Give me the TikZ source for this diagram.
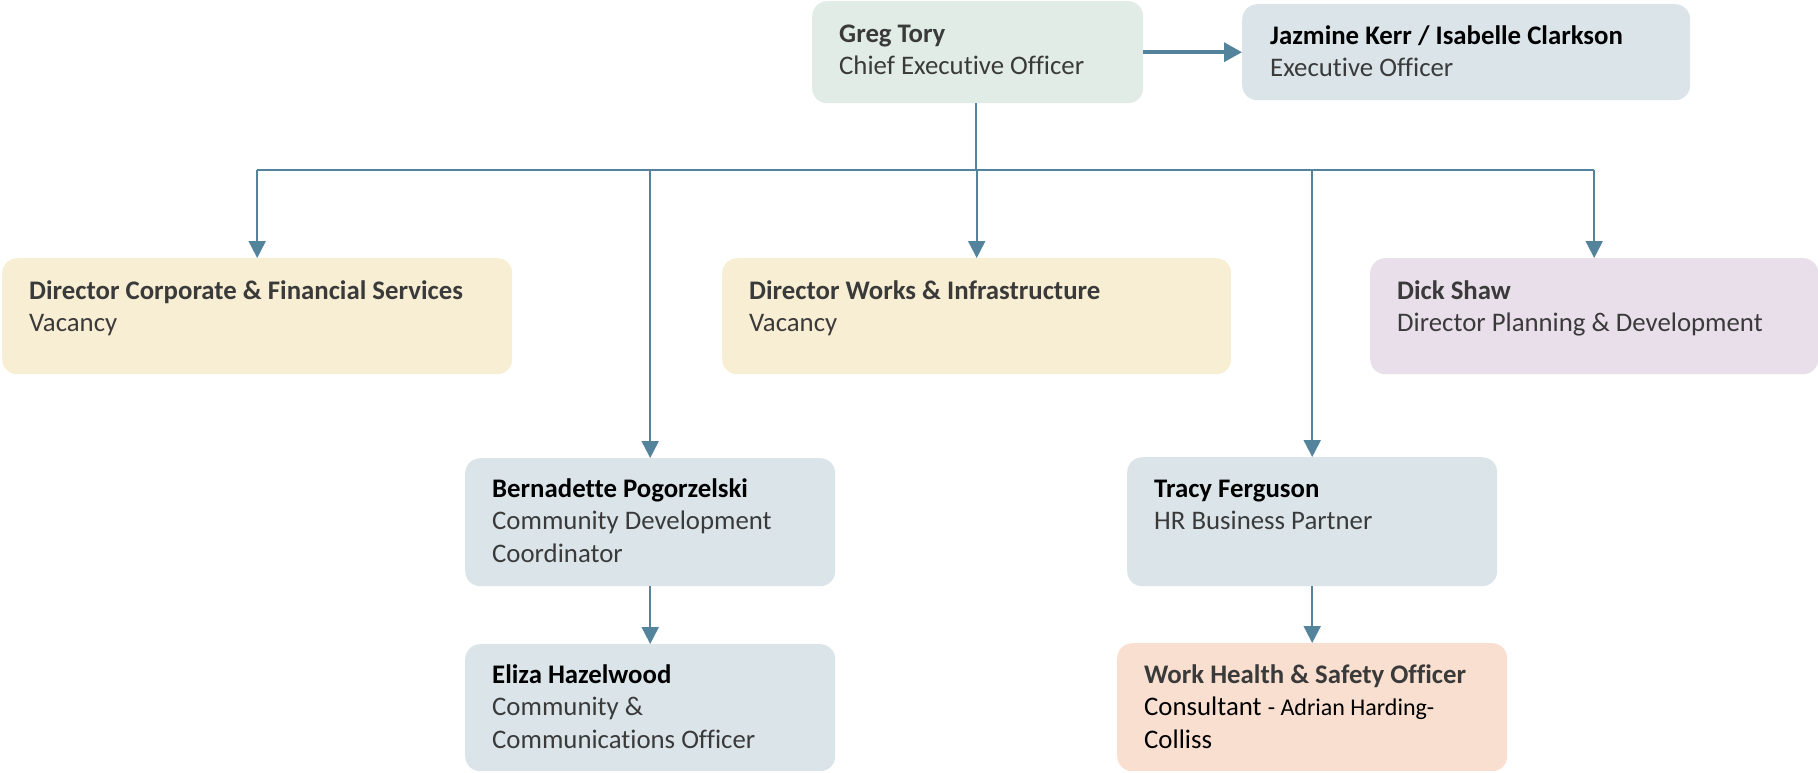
\documentclass[tikz,border=0pt]{standalone}
\usepackage{fontspec}
\setmainfont{Carlito}[Ligatures={NoCommon}]
\usetikzlibrary{arrows.meta,calc}
\definecolor{linec}{HTML}{54839C}
\definecolor{txtc}{HTML}{3A3A3A}
\definecolor{greenbox}{HTML}{E1ECE7}
\definecolor{bluebox}{HTML}{DBE5E9}
\definecolor{yellowbox}{HTML}{F8EED3}
\definecolor{purplebox}{HTML}{E9DFEB}
\definecolor{peachbox}{HTML}{F9DFCF}
\newcommand{\twolines}[3]{\vtop{\baselineskip=32.5pt\hbox{\textbf{\color{#1}#2}}#3}}
\newcommand{\tline}[1]{\hbox{#1}}
\begin{document}
\begin{tikzpicture}[x=1pt,y=-1pt,
  orgbox/.style={draw=none,rounded corners=15pt,anchor=north west,inner sep=0pt},
  orgtxt/.style={anchor=base west,inner sep=0pt,text=txtc,font=\fontsize{26.8}{32.5}\selectfont},
  conn/.style={draw=linec,line width=2pt},
  connarrow/.style={conn,-{Triangle[width=17pt,length=17pt]}},
  bar/.style={draw=linec,line width=2.8pt}]
\useasboundingbox (0,0) rectangle (1818,772);
% boxes
\node[orgbox,fill=greenbox,minimum width=331pt,minimum height=102pt] (greg) at (812,1) {};
\node[orgbox,fill=bluebox,minimum width=448pt,minimum height=96pt] (jaz) at (1242,4) {};
\node[orgbox,fill=yellowbox,minimum width=510pt,minimum height=116pt] (corp) at (2,258) {};
\node[orgbox,fill=yellowbox,minimum width=509pt,minimum height=116pt] (works) at (722,258) {};
\node[orgbox,fill=purplebox,minimum width=448pt,minimum height=116pt] (dick) at (1370,258) {};
\node[orgbox,fill=bluebox,minimum width=370pt,minimum height=128pt] (bern) at (465,458) {};
\node[orgbox,fill=bluebox,minimum width=370pt,minimum height=127pt] (eliza) at (465,644) {};
\node[orgbox,fill=bluebox,minimum width=370pt,minimum height=129pt] (tracy) at (1127,457) {};
\node[orgbox,fill=peachbox,minimum width=390pt,minimum height=128pt] (whs) at (1117,643) {};
% texts
\node[orgtxt] (greg-t) at (839,42) {\twolines{txtc}{Greg Tory}{\tline{Chief Executive Officer}}};
\node[orgtxt] (jaz-t) at (1270,44) {\twolines{black}{Jazmine Kerr / Isabelle Clarkson}{\tline{Executive Officer}}};
\node[orgtxt] (corp-t) at (29,299) {\twolines{txtc}{Director Corporate \& Financial Services}{\tline{Vacancy}}};
\node[orgtxt] (works-t) at (749,299) {\twolines{txtc}{Director Works \& Infrastructure}{\tline{Vacancy}}};
\node[orgtxt] (dick-t) at (1397,299) {\twolines{txtc}{Dick Shaw}{\tline{Director Planning \& Development}}};
\node[orgtxt] (bern-t) at (492,497) {\twolines{black}{Bernadette Pogorzelski}{\tline{Community Development}\tline{Coordinator}}};
\node[orgtxt] (eliza-t) at (492,683) {\twolines{black}{Eliza Hazelwood}{\tline{Community \&}\tline{Communications Officer}}};
\node[orgtxt] (tracy-t) at (1154,497) {\twolines{black}{Tracy Ferguson}{\tline{HR Business Partner}}};
\node[orgtxt] (whs-t) at (1144,683) {\twolines{txtc}{Work Health \& Safety Officer}{\tline{\color{black}Consultant {\fontsize{24}{32.5}\selectfont - Adrian Harding-}}\tline{\color{black}Colliss}}};
% connectors
\coordinate (barc) at (976,170);
\draw[draw=linec,line width=3.5pt,-{Triangle[width=19pt,length=18pt]}] (greg.east) -- (jaz.west);
\draw[bar] (greg.south -| barc) -- (barc);
\draw[bar] (corp.north |- barc) -- (dick.north |- barc);
\draw[connarrow] (corp.north |- barc) -- (corp.north);
\draw[connarrow] (bern.north |- barc) -- (bern.north);
\draw[connarrow] (works.north |- barc) -- (works.north);
\draw[connarrow] (tracy.north |- barc) -- (tracy.north);
\draw[connarrow] (dick.north |- barc) -- (dick.north);
\draw[connarrow] (bern.south) -- (eliza.north);
\draw[connarrow] (tracy.south) -- (whs.north);
\end{tikzpicture}
\end{document}
